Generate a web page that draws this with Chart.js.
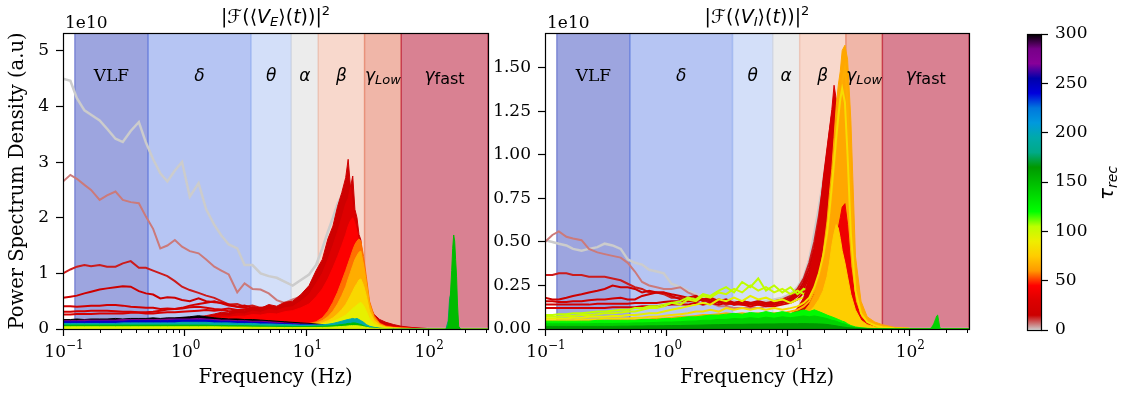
<!DOCTYPE html>
<html>
<head>
<meta charset="utf-8">
<title>Power spectra</title>
<script src="https://cdn.jsdelivr.net/npm/chart.js@4.4.1/dist/chart.umd.min.js"></script>
<style>
  body { margin: 0; background: #fff; }
  #wrap { position: relative; width: 1122px; height: 396px; }
  #wrap canvas { position: absolute; left: 0; top: 0; }
</style>
</head>
<body>
<div id="wrap">
  <canvas id="chartE" width="1122" height="396"></canvas>
  <canvas id="chartI" width="1122" height="396"></canvas>
  <canvas id="cbar" width="1122" height="396"></canvas>
</div>
<script>
// power values are in units of 1e10 (the "1e10" offset shown on each axis)
var freqs = [
  0.1, 0.115, 0.13, 0.15, 0.17, 0.2, 0.23, 0.27, 0.31, 0.36,
  0.42, 0.48, 0.55, 0.63, 0.72, 0.83, 0.95, 1.1, 1.3, 1.5,
  1.75, 2.0, 2.3, 2.7, 3.1, 3.6, 4.2, 4.9, 5.7, 6.6,
  7.7, 9.0, 10.5, 12, 13.5, 15, 16.5, 18, 19.5, 21,
  22, 23, 24, 25, 26, 27, 28, 29.5, 31, 33,
  36, 40, 45, 52, 60, 75, 100, 150, 310
];
var spikeFreqs = [140, 146, 150, 153, 156, 159, 162, 165, 168, 171, 174, 178, 184];

var bandEdges = [0.125, 0.5, 3.5, 7.5, 12.5, 30, 60, 310];
var bandNames = ['VLF', 'δ', 'θ', 'α', 'β', 'γLow', 'γfast'];
var xMajorTicks = [0.1, 1, 10, 100];
var xMinorTicks = [0.2, 0.3, 0.4, 0.5, 0.6, 0.7, 0.8, 0.9, 2, 3, 4, 5, 6, 7, 8, 9,
  20, 30, 40, 50, 60, 70, 80, 90, 200, 300];
var leftYTicks = [0, 1, 2, 3, 4, 5];
var rightYTicks = [0, 0.25, 0.5, 0.75, 1.0, 1.25, 1.5];
var cbarTicks = [0, 50, 100, 150, 200, 250, 300];

// ---- <V_E> spectra ----
var eGray = [
  4.50, 4.46, 4.15, 3.93, 3.85, 3.75, 3.60, 3.42, 3.36, 3.56,
  3.72, 3.35, 3.05, 2.80, 2.65, 2.85, 3.00, 2.38, 2.62, 2.15,
  1.87, 1.68, 1.52, 1.45, 1.15, 1.15, 1.00, 0.95, 0.92, 0.85,
  0.78, 0.88, 0.98, 1.15, 1.45, 1.75, 2.00, 2.25, 2.40, 2.45,
  2.20, 1.90, 1.60, 1.25, 1.00, 0.80, 0.62, 0.45, 0.30, 0.20,
  0.12, 0.07, 0.04, 0.02, 0.01, 0.005, 0, 0, 0
];
var eRosy = [
  2.65, 2.77, 2.70, 2.59, 2.50, 2.32, 2.40, 2.47, 2.32, 2.28,
  2.26, 2.02, 1.80, 1.45, 1.50, 1.60, 1.48, 1.40, 1.36, 1.25,
  1.12, 1.05, 0.98, 0.66, 0.82, 0.72, 0.71, 0.64, 0.52, 0.47,
  0.53, 0.58, 0.70, 0.90, 1.15, 1.40, 1.65, 1.85, 2.00, 2.05,
  1.85, 1.60, 1.40, 1.15, 0.95, 0.75, 0.55, 0.40, 0.28, 0.18,
  0.10, 0.06, 0.035, 0.02, 0.01, 0.004, 0, 0, 0
];
var eRed1 = [
  1.00, 1.07, 1.12, 1.15, 1.13, 1.15, 1.12, 1.12, 1.18, 1.22,
  1.10, 1.10, 1.05, 1.00, 0.95, 0.86, 0.76, 0.70, 0.65, 0.60,
  0.56, 0.50, 0.44, 0.45, 0.40, 0.42, 0.38, 0.40, 0.36, 0.42,
  0.40, 0.48, 0.60, 0.75, 0.95, 1.20, 1.50, 1.80, 2.05, 2.30,
  2.45, 2.20, 1.90, 1.60, 1.30, 1.05, 0.80, 0.55, 0.38, 0.25,
  0.14, 0.08, 0.05, 0.03, 0.015, 0.005, 0, 0, 0
];
var eRed2 = [
  0.56, 0.58, 0.60, 0.64, 0.67, 0.71, 0.73, 0.75, 0.77, 0.76,
  0.68, 0.64, 0.62, 0.55, 0.57, 0.56, 0.52, 0.50, 0.55, 0.50,
  0.48, 0.47, 0.44, 0.40, 0.42, 0.38, 0.36, 0.40, 0.38, 0.42,
  0.45, 0.50, 0.62, 0.80, 1.00, 1.25, 1.55, 1.85, 2.10, 2.40,
  2.60, 2.35, 2.00, 1.70, 1.40, 1.10, 0.85, 0.60, 0.40, 0.26,
  0.15, 0.09, 0.05, 0.03, 0.015, 0.005, 0, 0, 0
];
var eRed3 = [
  0.41, 0.41, 0.40, 0.41, 0.42, 0.42, 0.43, 0.43, 0.42, 0.40,
  0.39, 0.38, 0.38, 0.36, 0.37, 0.36, 0.38, 0.42, 0.45, 0.47,
  0.50, 0.46, 0.42, 0.40, 0.38, 0.36, 0.38, 0.34, 0.36, 0.38,
  0.40, 0.45, 0.55, 0.70, 0.90, 1.10, 1.35, 1.60, 1.85, 2.05,
  2.20, 2.00, 1.75, 1.50, 1.25, 1.00, 0.78, 0.55, 0.38, 0.25,
  0.14, 0.08, 0.05, 0.03, 0.015, 0.005, 0, 0, 0
];
var eRed4 = [
  0.31, 0.31, 0.32, 0.32, 0.33, 0.33, 0.33, 0.32, 0.31, 0.31,
  0.30, 0.30, 0.31, 0.33, 0.35, 0.36, 0.37, 0.39, 0.40, 0.38,
  0.36, 0.35, 0.37, 0.34, 0.35, 0.33, 0.36, 0.33, 0.35, 0.37,
  0.38, 0.42, 0.50, 0.62, 0.80, 1.00, 1.20, 1.45, 1.65, 1.85,
  2.00, 1.85, 1.65, 1.40, 1.15, 0.92, 0.70, 0.50, 0.34, 0.22,
  0.12, 0.07, 0.04, 0.025, 0.012, 0.004, 0, 0, 0
];
var eRed5 = [
  0.26, 0.26, 0.27, 0.27, 0.27, 0.28, 0.28, 0.28, 0.28, 0.29,
  0.29, 0.28, 0.28, 0.29, 0.30, 0.30, 0.31, 0.32, 0.33, 0.34,
  0.33, 0.34, 0.32, 0.33, 0.31, 0.34, 0.32, 0.35, 0.33, 0.36,
  0.37, 0.40, 0.46, 0.56, 0.70, 0.88, 1.05, 1.25, 1.45, 1.62,
  1.75, 1.65, 1.48, 1.28, 1.05, 0.85, 0.65, 0.46, 0.31, 0.20,
  0.11, 0.06, 0.035, 0.02, 0.01, 0.003, 0, 0, 0
];
var eFill1 = [
  0.15, 0.15, 0.15, 0.15, 0.16, 0.16, 0.16, 0.16, 0.16, 0.16,
  0.16, 0.16, 0.17, 0.17, 0.18, 0.19, 0.20, 0.21, 0.22, 0.24,
  0.27, 0.30, 0.29, 0.35, 0.33, 0.40, 0.37, 0.44, 0.41, 0.48,
  0.50, 0.62, 0.78, 1.05, 1.25, 1.62, 1.85, 2.20, 2.45, 2.72,
  3.05, 2.55, 2.75, 2.15, 2.00, 1.70, 1.60, 1.10, 0.80, 0.42,
  0.26, 0.17, 0.12, 0.08, 0.05, 0.025, 0.008, 0, 0
];
var eFill2 = [
  0.14, 0.14, 0.14, 0.14, 0.14, 0.15, 0.15, 0.15, 0.15, 0.15,
  0.15, 0.15, 0.16, 0.16, 0.17, 0.17, 0.18, 0.19, 0.20, 0.21,
  0.23, 0.25, 0.24, 0.28, 0.27, 0.32, 0.30, 0.35, 0.33, 0.38,
  0.40, 0.50, 0.62, 0.82, 1.00, 1.25, 1.50, 1.75, 2.00, 2.25,
  2.35, 2.55, 2.20, 2.05, 1.75, 1.55, 1.25, 0.95, 0.70, 0.40,
  0.22, 0.12, 0.07, 0.045, 0.03, 0.015, 0.004, 0, 0
];
var eFill3 = [
  0.13, 0.13, 0.13, 0.13, 0.13, 0.13, 0.14, 0.14, 0.14, 0.14,
  0.14, 0.14, 0.14, 0.15, 0.15, 0.15, 0.16, 0.17, 0.18, 0.19,
  0.20, 0.21, 0.21, 0.23, 0.23, 0.26, 0.25, 0.28, 0.27, 0.31,
  0.33, 0.38, 0.45, 0.58, 0.72, 0.90, 1.10, 1.30, 1.50, 1.70,
  1.85, 1.95, 2.00, 1.90, 1.75, 1.55, 1.30, 1.00, 0.72, 0.42,
  0.22, 0.11, 0.06, 0.04, 0.025, 0.012, 0.003, 0, 0
];
var eFill4 = [
  0.12, 0.12, 0.12, 0.12, 0.12, 0.12, 0.12, 0.12, 0.12, 0.12,
  0.12, 0.12, 0.12, 0.12, 0.12, 0.12, 0.12, 0.12, 0.12, 0.12,
  0.12, 0.12, 0.12, 0.12, 0.12, 0.12, 0.12, 0.12, 0.12, 0.11,
  0.11, 0.10, 0.10, 0.13, 0.20, 0.32, 0.48, 0.66, 0.86, 1.05,
  1.18, 1.30, 1.42, 1.52, 1.58, 1.62, 1.58, 1.30, 0.95, 0.50,
  0.24, 0.10, 0.05, 0.03, 0.02, 0.01, 0.002, 0, 0
];
var eFill5 = [
  0.11, 0.11, 0.11, 0.11, 0.11, 0.11, 0.11, 0.11, 0.11, 0.11,
  0.11, 0.11, 0.11, 0.11, 0.11, 0.11, 0.11, 0.11, 0.11, 0.11,
  0.11, 0.11, 0.11, 0.11, 0.11, 0.11, 0.11, 0.11, 0.10, 0.10,
  0.10, 0.09, 0.09, 0.11, 0.15, 0.22, 0.32, 0.45, 0.60, 0.76,
  0.90, 1.02, 1.14, 1.25, 1.32, 1.38, 1.40, 1.15, 0.85, 0.45,
  0.20, 0.09, 0.04, 0.025, 0.015, 0.008, 0.002, 0, 0
];
var eFill6 = [
  0.10, 0.10, 0.10, 0.10, 0.10, 0.10, 0.10, 0.10, 0.10, 0.10,
  0.10, 0.10, 0.10, 0.10, 0.10, 0.10, 0.10, 0.10, 0.10, 0.10,
  0.10, 0.10, 0.10, 0.10, 0.10, 0.10, 0.10, 0.10, 0.10, 0.09,
  0.09, 0.08, 0.08, 0.09, 0.11, 0.15, 0.20, 0.27, 0.35, 0.44,
  0.52, 0.60, 0.68, 0.76, 0.82, 0.88, 0.90, 0.78, 0.60, 0.32,
  0.15, 0.07, 0.03, 0.02, 0.01, 0.005, 0, 0, 0
];
var eFill7 = [
  0.09, 0.09, 0.09, 0.09, 0.09, 0.09, 0.09, 0.09, 0.09, 0.09,
  0.09, 0.09, 0.09, 0.09, 0.09, 0.09, 0.09, 0.09, 0.09, 0.09,
  0.09, 0.09, 0.09, 0.09, 0.09, 0.09, 0.09, 0.09, 0.09, 0.08,
  0.08, 0.07, 0.07, 0.08, 0.09, 0.11, 0.14, 0.17, 0.21, 0.25,
  0.29, 0.33, 0.37, 0.40, 0.43, 0.46, 0.48, 0.42, 0.32, 0.18,
  0.09, 0.04, 0.02, 0.01, 0.005, 0, 0, 0, 0
];
var eBlack = [
  0.17, 0.17, 0.18, 0.17, 0.18, 0.18, 0.18, 0.19, 0.18, 0.19,
  0.19, 0.19, 0.20, 0.19, 0.20, 0.20, 0.21, 0.22, 0.24, 0.22,
  0.20, 0.19, 0.18, 0.18, 0.17, 0.17, 0.16, 0.15, 0.14, 0.13,
  0.12, 0.11, 0.10, 0.09, 0.08, 0.07, 0.065, 0.06, 0.055, 0.05,
  0.048, 0.046, 0.044, 0.042, 0.04, 0.037, 0.034, 0.03, 0.025, 0.02,
  0.015, 0.01, 0.006, 0.004, 0.002, 0.001, 0, 0, 0
];
var ePurple = [
  0.15, 0.15, 0.15, 0.16, 0.16, 0.16, 0.16, 0.16, 0.17, 0.17,
  0.17, 0.17, 0.17, 0.17, 0.18, 0.18, 0.18, 0.18, 0.19, 0.18,
  0.17, 0.16, 0.16, 0.15, 0.15, 0.14, 0.14, 0.13, 0.12, 0.11,
  0.10, 0.09, 0.085, 0.075, 0.07, 0.06, 0.055, 0.05, 0.045, 0.042,
  0.04, 0.038, 0.036, 0.034, 0.032, 0.03, 0.027, 0.024, 0.02, 0.016,
  0.012, 0.008, 0.005, 0.003, 0.002, 0.001, 0, 0, 0
];
var eBlue = [
  0.13, 0.13, 0.13, 0.13, 0.14, 0.14, 0.14, 0.14, 0.14, 0.15,
  0.15, 0.15, 0.15, 0.15, 0.15, 0.16, 0.16, 0.16, 0.16, 0.16,
  0.15, 0.14, 0.14, 0.13, 0.13, 0.12, 0.12, 0.11, 0.10, 0.095,
  0.09, 0.08, 0.075, 0.07, 0.065, 0.06, 0.058, 0.056, 0.055, 0.055,
  0.055, 0.055, 0.055, 0.054, 0.052, 0.05, 0.045, 0.038, 0.03, 0.02,
  0.013, 0.008, 0.005, 0.003, 0.002, 0.001, 0, 0, 0
];
var eTeal = [
  0.10, 0.10, 0.10, 0.10, 0.10, 0.10, 0.10, 0.10, 0.11, 0.11,
  0.11, 0.11, 0.11, 0.11, 0.11, 0.11, 0.12, 0.12, 0.12, 0.12,
  0.11, 0.11, 0.11, 0.10, 0.10, 0.10, 0.09, 0.09, 0.085, 0.08,
  0.075, 0.07, 0.07, 0.07, 0.075, 0.085, 0.10, 0.12, 0.14, 0.16,
  0.17, 0.18, 0.19, 0.18, 0.19, 0.17, 0.15, 0.12, 0.08, 0.05,
  0.03, 0.015, 0.008, 0.004, 0.002, 0.001, 0, 0, 0
];
var eGreen = [
  0.07, 0.07, 0.07, 0.07, 0.07, 0.07, 0.07, 0.07, 0.07, 0.07,
  0.07, 0.07, 0.07, 0.07, 0.07, 0.07, 0.07, 0.07, 0.07, 0.07,
  0.065, 0.065, 0.06, 0.06, 0.06, 0.055, 0.055, 0.05, 0.05, 0.05,
  0.045, 0.045, 0.045, 0.05, 0.05, 0.055, 0.06, 0.07, 0.08, 0.09,
  0.10, 0.10, 0.11, 0.11, 0.10, 0.09, 0.08, 0.06, 0.04, 0.025,
  0.015, 0.008, 0.004, 0.002, 0.001, 0, 0, 0, 0
];
var eYellow = [
  0.04, 0.04, 0.04, 0.04, 0.04, 0.04, 0.04, 0.04, 0.04, 0.04,
  0.04, 0.04, 0.04, 0.04, 0.04, 0.04, 0.04, 0.04, 0.04, 0.04,
  0.04, 0.038, 0.036, 0.035, 0.034, 0.032, 0.03, 0.03, 0.028, 0.026,
  0.025, 0.025, 0.025, 0.026, 0.028, 0.03, 0.035, 0.04, 0.045, 0.05,
  0.055, 0.06, 0.06, 0.06, 0.058, 0.055, 0.05, 0.04, 0.03, 0.02,
  0.012, 0.006, 0.003, 0.002, 0.001, 0, 0, 0, 0
];
var eSpikeTeal = [0, 0.15, 0.55, 0.62, 0.30, 0.10, 0, 0, 0, 0, 0, 0, 0];
var eSpike = [0, 0.05, 0.35, 0.70, 1.05, 1.45, 1.69, 1.58, 1.25, 0.95, 0.45, 0.05, 0];

// ---- <V_I> spectra ----
var iGray = [
  0.51, 0.50, 0.49, 0.48, 0.46, 0.45, 0.46, 0.47, 0.49, 0.48,
  0.46, 0.40, 0.38, 0.37, 0.34, 0.33, 0.32, 0.26, 0.24, 0.22,
  0.20, 0.19, 0.18, 0.17, 0.16, 0.16, 0.15, 0.15, 0.15, 0.16,
  0.17, 0.18, 0.20, 0.24, 0.30, 0.40, 0.55, 0.70, 0.85, 1.00,
  1.10, 1.18, 1.22, 1.15, 1.00, 0.80, 0.60, 0.42, 0.28, 0.16,
  0.08, 0.04, 0.02, 0.01, 0.005, 0.002, 0, 0, 0
];
var iRosy = [
  0.50, 0.54, 0.56, 0.53, 0.52, 0.51, 0.46, 0.44, 0.43, 0.42,
  0.41, 0.38, 0.33, 0.27, 0.25, 0.24, 0.23, 0.23, 0.24, 0.21,
  0.19, 0.17, 0.15, 0.13, 0.13, 0.12, 0.12, 0.12, 0.12, 0.13,
  0.14, 0.15, 0.17, 0.20, 0.26, 0.34, 0.46, 0.60, 0.76, 0.92,
  1.02, 1.10, 1.12, 1.05, 0.90, 0.72, 0.55, 0.38, 0.25, 0.14,
  0.07, 0.035, 0.018, 0.009, 0.004, 0.001, 0, 0, 0
];
var iRed1 = [
  0.31, 0.31, 0.32, 0.32, 0.31, 0.31, 0.30, 0.30, 0.30, 0.29,
  0.28, 0.26, 0.24, 0.23, 0.21, 0.21, 0.20, 0.18, 0.18, 0.17,
  0.16, 0.17, 0.15, 0.16, 0.14, 0.15, 0.14, 0.15, 0.14, 0.15,
  0.16, 0.17, 0.19, 0.23, 0.29, 0.38, 0.50, 0.65, 0.82, 1.00,
  1.12, 1.22, 1.28, 1.20, 1.02, 0.82, 0.62, 0.42, 0.27, 0.15,
  0.08, 0.04, 0.02, 0.01, 0.005, 0.002, 0, 0, 0
];
var iRed2 = [
  0.18, 0.17, 0.17, 0.18, 0.19, 0.20, 0.21, 0.22, 0.23, 0.25,
  0.24, 0.24, 0.23, 0.21, 0.22, 0.21, 0.21, 0.20, 0.19, 0.18,
  0.19, 0.17, 0.18, 0.16, 0.17, 0.15, 0.16, 0.15, 0.16, 0.15,
  0.15, 0.16, 0.18, 0.21, 0.27, 0.35, 0.46, 0.60, 0.76, 0.94,
  1.06, 1.16, 1.22, 1.16, 1.00, 0.80, 0.60, 0.40, 0.26, 0.15,
  0.08, 0.04, 0.02, 0.01, 0.005, 0.002, 0, 0, 0
];
var iRed3 = [
  0.16, 0.16, 0.155, 0.155, 0.16, 0.16, 0.165, 0.17, 0.17, 0.175,
  0.18, 0.17, 0.17, 0.19, 0.20, 0.21, 0.21, 0.19, 0.17, 0.16,
  0.18, 0.16, 0.17, 0.15, 0.16, 0.14, 0.15, 0.14, 0.15, 0.14,
  0.14, 0.15, 0.17, 0.20, 0.25, 0.32, 0.42, 0.55, 0.70, 0.86,
  0.98, 1.08, 1.15, 1.10, 0.96, 0.78, 0.58, 0.39, 0.25, 0.14,
  0.07, 0.035, 0.018, 0.009, 0.004, 0.001, 0, 0, 0
];
var iRed4 = [
  0.14, 0.14, 0.14, 0.14, 0.14, 0.14, 0.14, 0.145, 0.145, 0.145,
  0.145, 0.145, 0.15, 0.15, 0.15, 0.15, 0.155, 0.16, 0.16, 0.16,
  0.16, 0.17, 0.16, 0.17, 0.16, 0.15, 0.16, 0.15, 0.15, 0.14,
  0.14, 0.15, 0.16, 0.19, 0.23, 0.30, 0.40, 0.52, 0.66, 0.80,
  0.92, 1.02, 1.08, 1.04, 0.92, 0.75, 0.56, 0.38, 0.24, 0.13,
  0.065, 0.03, 0.015, 0.008, 0.004, 0.001, 0, 0, 0
];
var iRed5 = [
  0.12, 0.12, 0.12, 0.12, 0.12, 0.12, 0.12, 0.12, 0.12, 0.125,
  0.125, 0.125, 0.125, 0.13, 0.13, 0.13, 0.135, 0.14, 0.14, 0.14,
  0.15, 0.14, 0.15, 0.14, 0.15, 0.14, 0.14, 0.13, 0.14, 0.13,
  0.13, 0.14, 0.15, 0.17, 0.21, 0.27, 0.36, 0.47, 0.60, 0.74,
  0.86, 0.96, 1.02, 0.98, 0.88, 0.72, 0.54, 0.36, 0.23, 0.12,
  0.06, 0.03, 0.015, 0.008, 0.004, 0.001, 0, 0, 0
];
var iYellow = [
  0.06, 0.06, 0.06, 0.06, 0.065, 0.065, 0.07, 0.07, 0.07, 0.075,
  0.075, 0.08, 0.08, 0.085, 0.09, 0.09, 0.10, 0.11, 0.12, 0.13,
  0.14, 0.15, 0.14, 0.17, 0.16, 0.18, 0.16, 0.19, 0.17, 0.18,
  0.16, 0.17, 0.15, 0.17, 0.18, 0.20, 0.24, 0.30, 0.38, 0.48,
  0.58, 0.68, 0.78, 0.86, 0.92, 0.95, 0.90, 0.72, 0.48, 0.26,
  0.12, 0.05, 0.025, 0.012, 0.006, 0.002, 0, 0, 0
];
var iLime2 = [
  0.07, 0.07, 0.07, 0.075, 0.075, 0.08, 0.08, 0.085, 0.09, 0.09,
  0.095, 0.10, 0.10, 0.11, 0.12, 0.12, 0.13, 0.15, 0.14, 0.17,
  0.16, 0.19, 0.18, 0.21, 0.20, 0.23, 0.21, 0.25, 0.22, 0.24,
  0.21, 0.23, 0.20, 0.22, 0.20, 0.22, 0.24, 0.27, 0.30, 0.34,
  0.38, 0.42, 0.46, 0.50, 0.52, 0.50, 0.44, 0.34, 0.22, 0.12,
  0.06, 0.03, 0.015, 0.008, 0.004, 0.001, 0, 0, 0
];
var iLime1 = [
  0.08, 0.08, 0.085, 0.085, 0.09, 0.09, 0.095, 0.10, 0.10, 0.105,
  0.11, 0.11, 0.12, 0.12, 0.13, 0.13, 0.14, 0.15, 0.16, 0.18,
  0.17, 0.20, 0.19, 0.22, 0.24, 0.21, 0.27, 0.24, 0.29, 0.22,
  0.25, 0.21, 0.24, 0.20, 0.23, 0.22, 0.25, 0.28, 0.32, 0.36,
  0.40, 0.43, 0.45, 0.44, 0.40, 0.34, 0.27, 0.20, 0.13, 0.08,
  0.04, 0.02, 0.01, 0.005, 0.003, 0.001, 0, 0, 0
];
var iFill1 = [
  0.03, 0.03, 0.03, 0.03, 0.03, 0.03, 0.03, 0.03, 0.03, 0.03,
  0.03, 0.03, 0.03, 0.03, 0.03, 0.03, 0.03, 0.03, 0.03, 0.03,
  0.03, 0.03, 0.03, 0.03, 0.035, 0.035, 0.04, 0.04, 0.04, 0.045,
  0.05, 0.06, 0.08, 0.12, 0.18, 0.30, 0.45, 0.62, 0.86, 1.04,
  1.15, 1.26, 1.40, 1.32, 1.22, 1.05, 0.82, 0.56, 0.38, 0.22,
  0.12, 0.06, 0.03, 0.015, 0.008, 0.003, 0.001, 0, 0
];
var iFill2 = [
  0.03, 0.03, 0.03, 0.03, 0.03, 0.03, 0.03, 0.03, 0.03, 0.03,
  0.03, 0.03, 0.03, 0.03, 0.03, 0.03, 0.03, 0.03, 0.03, 0.03,
  0.03, 0.03, 0.03, 0.03, 0.035, 0.035, 0.04, 0.04, 0.04, 0.045,
  0.045, 0.05, 0.06, 0.08, 0.10, 0.14, 0.20, 0.30, 0.44, 0.62,
  0.78, 0.92, 1.10, 1.28, 1.40, 1.48, 1.60, 1.63, 1.55, 1.20,
  0.42, 0.16, 0.07, 0.04, 0.025, 0.01, 0.003, 0, 0
];
var iFill3 = [
  0.03, 0.03, 0.03, 0.03, 0.03, 0.03, 0.03, 0.03, 0.03, 0.03,
  0.03, 0.03, 0.03, 0.03, 0.03, 0.03, 0.03, 0.03, 0.03, 0.03,
  0.03, 0.03, 0.03, 0.03, 0.035, 0.035, 0.04, 0.04, 0.04, 0.045,
  0.04, 0.045, 0.05, 0.06, 0.08, 0.10, 0.12, 0.15, 0.19, 0.25,
  0.32, 0.40, 0.46, 0.52, 0.58, 0.64, 0.70, 0.72, 0.60, 0.36,
  0.16, 0.07, 0.035, 0.018, 0.01, 0.004, 0.001, 0, 0
];
var iFill4 = [
  0.03, 0.03, 0.03, 0.03, 0.03, 0.03, 0.03, 0.03, 0.03, 0.03,
  0.03, 0.03, 0.03, 0.03, 0.03, 0.03, 0.03, 0.03, 0.03, 0.03,
  0.03, 0.03, 0.03, 0.03, 0.035, 0.035, 0.04, 0.04, 0.04, 0.045,
  0.04, 0.045, 0.05, 0.06, 0.08, 0.10, 0.13, 0.17, 0.22, 0.30,
  0.38, 0.48, 0.55, 0.60, 0.58, 0.52, 0.45, 0.38, 0.30, 0.20,
  0.11, 0.05, 0.025, 0.012, 0.006, 0.002, 0, 0, 0
];
var iOrange = [
  0.04, 0.04, 0.04, 0.04, 0.04, 0.045, 0.045, 0.045, 0.045, 0.05,
  0.05, 0.05, 0.05, 0.055, 0.055, 0.06, 0.06, 0.065, 0.07, 0.07,
  0.075, 0.08, 0.08, 0.085, 0.09, 0.085, 0.09, 0.085, 0.09, 0.085,
  0.09, 0.09, 0.10, 0.11, 0.13, 0.16, 0.22, 0.30, 0.40, 0.52,
  0.64, 0.78, 0.92, 1.05, 1.18, 1.30, 1.42, 1.50, 1.30, 0.80,
  0.30, 0.12, 0.05, 0.025, 0.012, 0.005, 0.001, 0, 0
];
var iAmber = [
  0.05, 0.05, 0.05, 0.05, 0.05, 0.055, 0.055, 0.055, 0.06, 0.06,
  0.06, 0.06, 0.065, 0.065, 0.07, 0.07, 0.075, 0.08, 0.085, 0.09,
  0.10, 0.10, 0.11, 0.10, 0.12, 0.11, 0.12, 0.11, 0.12, 0.11,
  0.12, 0.11, 0.12, 0.13, 0.15, 0.18, 0.24, 0.32, 0.42, 0.55,
  0.68, 0.82, 0.96, 1.10, 1.22, 1.32, 1.38, 1.30, 1.00, 0.55,
  0.22, 0.09, 0.04, 0.02, 0.01, 0.004, 0.001, 0, 0
];
var iGreen1 = [
  0.045, 0.045, 0.045, 0.045, 0.045, 0.045, 0.045, 0.05, 0.05, 0.05,
  0.05, 0.05, 0.05, 0.055, 0.055, 0.055, 0.06, 0.06, 0.065, 0.07,
  0.07, 0.075, 0.08, 0.08, 0.085, 0.09, 0.085, 0.095, 0.09, 0.10,
  0.09, 0.10, 0.09, 0.10, 0.11, 0.10, 0.11, 0.10, 0.09, 0.08,
  0.075, 0.07, 0.065, 0.06, 0.055, 0.05, 0.045, 0.04, 0.03, 0.02,
  0.012, 0.007, 0.004, 0.002, 0.001, 0, 0, 0, 0
];
var iGreen2 = [
  0.03, 0.03, 0.03, 0.03, 0.03, 0.03, 0.03, 0.032, 0.032, 0.032,
  0.033, 0.033, 0.035, 0.035, 0.036, 0.038, 0.04, 0.04, 0.042, 0.045,
  0.046, 0.05, 0.05, 0.055, 0.055, 0.06, 0.058, 0.065, 0.06, 0.068,
  0.062, 0.07, 0.065, 0.07, 0.075, 0.07, 0.075, 0.07, 0.065, 0.06,
  0.055, 0.05, 0.048, 0.045, 0.04, 0.036, 0.032, 0.028, 0.022, 0.015,
  0.009, 0.005, 0.003, 0.0015, 0.001, 0, 0, 0, 0
];
var iGreen3 = [
  0.015, 0.015, 0.015, 0.015, 0.015, 0.015, 0.015, 0.015, 0.015, 0.015,
  0.016, 0.016, 0.017, 0.017, 0.018, 0.018, 0.019, 0.02, 0.02, 0.021,
  0.022, 0.023, 0.024, 0.025, 0.026, 0.027, 0.027, 0.028, 0.028, 0.029,
  0.029, 0.03, 0.03, 0.03, 0.031, 0.03, 0.03, 0.029, 0.028, 0.026,
  0.024, 0.022, 0.02, 0.018, 0.016, 0.014, 0.012, 0.01, 0.008, 0.006,
  0.004, 0.002, 0.001, 0.0005, 0, 0, 0, 0, 0
];
var iSpike = [0, 0, 0.005, 0.01, 0.02, 0.03, 0.045, 0.06, 0.075, 0.08, 0.05, 0.01, 0];

// tau_rec of each curve; listed from the bottom layer to the top layer
var leftSeries = [
  { tau: 0, y: eGray }, { tau: 6, y: eRosy }, { tau: 13, y: eRed1 }, { tau: 16, y: eRed2 },
  { tau: 19, y: eRed3 }, { tau: 21, y: eRed4 }, { tau: 24, y: eRed5 },
  { tau: 17, y: eFill1, fill: true }, { tau: 30, y: eFill2, fill: true }, { tau: 44, y: eFill3, fill: true },
  { tau: 56, y: eFill4, fill: true }, { tau: 66, y: eFill5, fill: true }, { tau: 80, y: eFill6, fill: true },
  { tau: 92, y: eFill7, fill: true },
  { tau: 300, y: eBlack, fill: true }, { tau: 280, y: ePurple, fill: true }, { tau: 245, y: eBlue, fill: true },
  { tau: 195, y: eTeal, fill: true }, { tau: 150, y: eGreen, fill: true }, { tau: 95, y: eYellow, fill: true },
  { tau: 175, y: eSpikeTeal, x: spikeFreqs, fill: true }, { tau: 150, y: eSpike, x: spikeFreqs, fill: true }
];
var rightSeries = [
  { tau: 0, y: iGray }, { tau: 6, y: iRosy }, { tau: 13, y: iRed1 }, { tau: 16, y: iRed2 },
  { tau: 18, y: iRed3 }, { tau: 20, y: iRed4 }, { tau: 22, y: iRed5 },
  { tau: 92, y: iYellow }, { tau: 100, y: iLime2 }, { tau: 104, y: iLime1 },
  { tau: 24, y: iFill1, fill: true }, { tau: 64, y: iFill2, fill: true }, { tau: 38, y: iFill3, fill: true },
  { tau: 76, y: iFill4, fill: true },
  { tau: 66, y: iOrange }, { tau: 82, y: iAmber },
  { tau: 122, y: iGreen1, fill: true }, { tau: 140, y: iGreen2, fill: true }, { tau: 165, y: iGreen3, fill: true },
  { tau: 140, y: iSpike, x: spikeFreqs, fill: true }
];

// ---- styles ----
var SERIF = "'DejaVu Serif', serif";
var SANS = "'DejaVu Sans', sans-serif";
var bandColors = ['rgba(59,76,192,0.5)', 'rgba(109,139,231,0.5)', 'rgba(167,191,243,0.5)',
  'rgba(218,218,218,0.5)', 'rgba(241,177,153,0.5)', 'rgba(225,109,81,0.5)', 'rgba(180,4,38,0.5)'];
// nipy_spectral reversed
var cmapNodes = [
  [0.00, 0.8, 0.8, 0.8], [0.05, 0.8, 0, 0], [0.10, 0.8667, 0, 0], [0.15, 1, 0, 0],
  [0.20, 1, 0.6, 0], [0.25, 1, 0.8, 0], [0.30, 0.9333, 0.9333, 0], [0.35, 0.7333, 1, 0],
  [0.40, 0, 1, 0], [0.45, 0, 0.8667, 0], [0.50, 0, 0.7333, 0], [0.55, 0, 0.6, 0],
  [0.60, 0, 0.6667, 0.5333], [0.65, 0, 0.6667, 0.6667], [0.70, 0, 0.6, 0.8667],
  [0.75, 0, 0.4667, 0.8667], [0.80, 0, 0, 0.8667], [0.85, 0, 0, 0.6667],
  [0.90, 0.5333, 0, 0.6], [0.95, 0.4667, 0, 0.5333], [1.00, 0, 0, 0]
];

function rgb(r, g, b) {
  return 'rgb(' + Math.round(r * 255) + ',' + Math.round(g * 255) + ',' + Math.round(b * 255) + ')';
}
function cmap(t) {
  t = Math.max(0, Math.min(1, t));
  for (var i = 1; i < cmapNodes.length; i++) {
    if (t <= cmapNodes[i][0]) {
      var a = cmapNodes[i - 1], b = cmapNodes[i];
      var f = (t - a[0]) / (b[0] - a[0]);
      return rgb(a[1] + f * (b[1] - a[1]), a[2] + f * (b[2] - a[2]), a[3] + f * (b[3] - a[3]));
    }
  }
  return rgb(0, 0, 0);
}

function makeDatasets(series) {
  return series.map(function (s, i) {
    var xs = s.x || freqs;
    var c = cmap(s.tau / 300);
    return {
      data: xs.map(function (f, j) { return { x: f, y: s.y[j] }; }),
      borderColor: c,
      backgroundColor: c,
      borderWidth: s.fill ? 1 : (s.tau < 3 ? 2.5 : 2),
      fill: s.fill ? 'origin' : false,
      pointRadius: 0,
      order: series.length - i
    };
  });
}

function drawParts(ctx, parts, x, y, center) {
  var total = 0;
  parts.forEach(function (p) { ctx.font = p.font; p.w = ctx.measureText(p.t).width; total += p.w; });
  var cx = center ? x - total / 2 : x;
  ctx.textAlign = 'left';
  ctx.textBaseline = 'alphabetic';
  parts.forEach(function (p) { ctx.font = p.font; ctx.fillText(p.t, cx, y + (p.dy || 0)); cx += p.w; });
}

function bandLabel(name) {
  if (name === 'VLF') return [{ t: 'VLF', font: '17px ' + SERIF }];
  if (name === 'γLow') return [{ t: 'γ', font: 'italic 17px ' + SANS }, { t: 'Low', font: 'italic 13px ' + SANS, dy: 3 }];
  if (name === 'γfast') return [{ t: 'γ', font: 'italic 17px ' + SANS }, { t: 'fast', font: '16px ' + SANS, dy: 3 }];
  return [{ t: name, font: 'italic 17px ' + SANS }];
}

function panelPlugin(sub) {
  return {
    id: 'panel' + sub,
    beforeDatasetsDraw: function (chart) {
      var a = chart.chartArea, xs = chart.scales.x, ctx = chart.ctx;
      ctx.save();
      ctx.beginPath();
      ctx.rect(a.left, a.top, a.right - a.left, a.bottom - a.top);
      ctx.clip();
      for (var i = 0; i < bandColors.length; i++) {
        var x0 = xs.getPixelForValue(bandEdges[i]), x1 = xs.getPixelForValue(bandEdges[i + 1]);
        ctx.fillStyle = bandColors[i];
        ctx.fillRect(x0, a.top, x1 - x0, a.bottom - a.top);
        ctx.strokeStyle = bandColors[i];
        ctx.lineWidth = 1.4;
        ctx.strokeRect(x0, a.top - 3, x1 - x0, a.bottom - a.top + 6);
      }
      ctx.restore();
    },
    afterDatasetsDraw: function (chart) {
      var a = chart.chartArea, xs = chart.scales.x, ctx = chart.ctx;
      ctx.save();
      ctx.fillStyle = '#000';
      for (var i = 0; i < bandNames.length; i++) {
        var x0 = Math.max(xs.getPixelForValue(bandEdges[i]), a.left);
        var x1 = Math.min(xs.getPixelForValue(bandEdges[i + 1]), a.right);
        drawParts(ctx, bandLabel(bandNames[i]), (x0 + x1) / 2, 81, true);
      }
      ctx.restore();
    },
    afterDraw: function (chart) {
      var a = chart.chartArea, xs = chart.scales.x, ctx = chart.ctx;
      ctx.save();
      ctx.strokeStyle = '#000';
      ctx.lineWidth = 1;
      ctx.beginPath();
      xMinorTicks.forEach(function (v) {
        var px = Math.round(xs.getPixelForValue(v)) + 0.5;
        ctx.moveTo(px, a.bottom);
        ctx.lineTo(px, a.bottom + 4);
      });
      ctx.stroke();
      ctx.lineWidth = 1.2;
      ctx.strokeRect(Math.round(a.left) + 0.5, Math.round(a.top) + 0.5, Math.round(a.right - a.left), Math.round(a.bottom - a.top));
      ctx.fillStyle = '#000';
      // x tick labels as 10 with a raised exponent
      xMajorTicks.forEach(function (v) {
        var e = Math.round(Math.log10(v));
        drawParts(ctx, [
          { t: '10', font: '17px ' + SERIF },
          { t: e < 0 ? '−' + (-e) : String(e), font: '12px ' + SERIF, dy: -8 }
        ], xs.getPixelForValue(v) + 1, 357, true);
      });
      drawParts(ctx, [
        { t: '|ℱ(⟨', font: '19px ' + SANS },
        { t: 'V', font: 'italic 19px ' + SANS },
        { t: sub, font: 'italic 13px ' + SANS, dy: 3 },
        { t: '⟩(', font: '19px ' + SANS },
        { t: 't', font: 'italic 19px ' + SANS },
        { t: '))|', font: '19px ' + SANS },
        { t: '2', font: '13px ' + SANS, dy: -8 }
      ], (a.left + a.right) / 2, 23, true);
      drawParts(ctx, [{ t: '1e10', font: '17px ' + SERIF }], a.left + 2, 28, false);
      ctx.restore();
    }
  };
}

function xAxisOptions() {
  return {
    type: 'logarithmic',
    min: 0.1,
    max: 310,
    afterBuildTicks: function (s) { s.ticks = xMajorTicks.map(function (v) { return { value: v }; }); },
    afterFit: function (s) { s.height = 67; },
    ticks: { display: false },
    grid: { display: true, drawOnChartArea: false, drawTicks: true, tickLength: 7, tickColor: '#000', tickWidth: 1.2 },
    border: { display: false },
    title: { display: true, text: 'Frequency (Hz)', color: '#000', font: { family: SERIF, size: 19.5 }, padding: { top: 0, bottom: 6 } }
  };
}

function yAxisOptions(max, tickList, width, digits, title) {
  return {
    type: 'linear',
    min: 0,
    max: max,
    afterBuildTicks: function (s) { s.ticks = tickList.map(function (v) { return { value: v }; }); },
    afterFit: function (s) { s.width = width; },
    ticks: {
      padding: 7, color: '#000', font: { family: SERIF, size: 17 },
      callback: function (v) { return v.toFixed(digits); }
    },
    grid: { display: true, drawOnChartArea: false, drawTicks: true, tickLength: 7, tickColor: '#000', tickWidth: 1.2 },
    border: { display: false },
    title: { display: !!title, text: title || '', color: '#000', font: { family: SERIF, size: 19.5 }, padding: { top: 6, bottom: 0 } }
  };
}

function panel(id, series, padLeft, padRight, yMax, yTicks, yWidth, digits, yTitle, sub) {
  return new Chart(document.getElementById(id), {
    type: 'line',
    data: { datasets: makeDatasets(series) },
    options: {
      responsive: false,
      animation: false,
      devicePixelRatio: 1,
      events: [],
      layout: { padding: { left: padLeft, right: padRight, top: 33, bottom: 0 } },
      plugins: { legend: { display: false }, tooltip: { enabled: false } },
      scales: {
        x: xAxisOptions(),
        y: yAxisOptions(yMax, yTicks, yWidth, digits, yTitle)
      }
    },
    plugins: [panelPlugin(sub)]
  });
}

panel('chartE', leftSeries, 0, 634, 5.32, leftYTicks, 63, 0, 'Power Spectrum Density (a.u)', 'E');
panel('chartI', rightSeries, 480, 153, 1.70, rightYTicks, 65, 2, '', 'I');

// ---- colorbar ----
var cbarPlugin = {
  id: 'cbarFrame',
  afterDraw: function (chart) {
    var a = chart.chartArea, ctx = chart.ctx;
    ctx.save();
    ctx.strokeStyle = '#000';
    ctx.lineWidth = 1.2;
    ctx.strokeRect(Math.round(a.left) + 0.5, Math.round(a.top) + 0.5, Math.round(a.right - a.left), Math.round(a.bottom - a.top));
    ctx.translate(1113, 183);
    ctx.rotate(-Math.PI / 2);
    ctx.fillStyle = '#000';
    drawParts(ctx, [
      { t: 'τ', font: 'italic 20px ' + SANS },
      { t: 'rec', font: 'italic 14px ' + SANS, dy: 4 }
    ], 0, 0, true);
    ctx.restore();
  }
};

new Chart(document.getElementById('cbar'), {
  type: 'bar',
  data: {
    labels: ['tau'],
    datasets: [{
      data: [cbarTicks[cbarTicks.length - 1]],
      barPercentage: 1,
      categoryPercentage: 1,
      borderWidth: 0,
      backgroundColor: function (context) {
        var chart = context.chart;
        if (!chart.chartArea) return null;
        var ys = chart.scales.y;
        var top = cbarTicks[cbarTicks.length - 1];
        var g = chart.ctx.createLinearGradient(0, ys.getPixelForValue(0), 0, ys.getPixelForValue(top));
        cmapNodes.forEach(function (n) { g.addColorStop(n[0], rgb(n[1], n[2], n[3])); });
        return g;
      }
    }]
  },
  options: {
    responsive: false,
    animation: false,
    devicePixelRatio: 1,
    events: [],
    layout: { padding: { left: 1027, right: 0, top: 34, bottom: 66 } },
    plugins: { legend: { display: false }, tooltip: { enabled: false } },
    scales: {
      x: { display: false },
      y: {
        position: 'right',
        min: 0,
        max: 300,
        afterBuildTicks: function (s) { s.ticks = cbarTicks.map(function (v) { return { value: v }; }); },
        afterFit: function (s) { s.width = 81; },
        ticks: { padding: 7, color: '#000', font: { family: SERIF, size: 17 } },
        grid: { display: true, drawOnChartArea: false, drawTicks: true, tickLength: 7, tickColor: '#000', tickWidth: 1.2 },
        border: { display: false }
      }
    }
  },
  plugins: [cbarPlugin]
});
</script>
</body>
</html>
